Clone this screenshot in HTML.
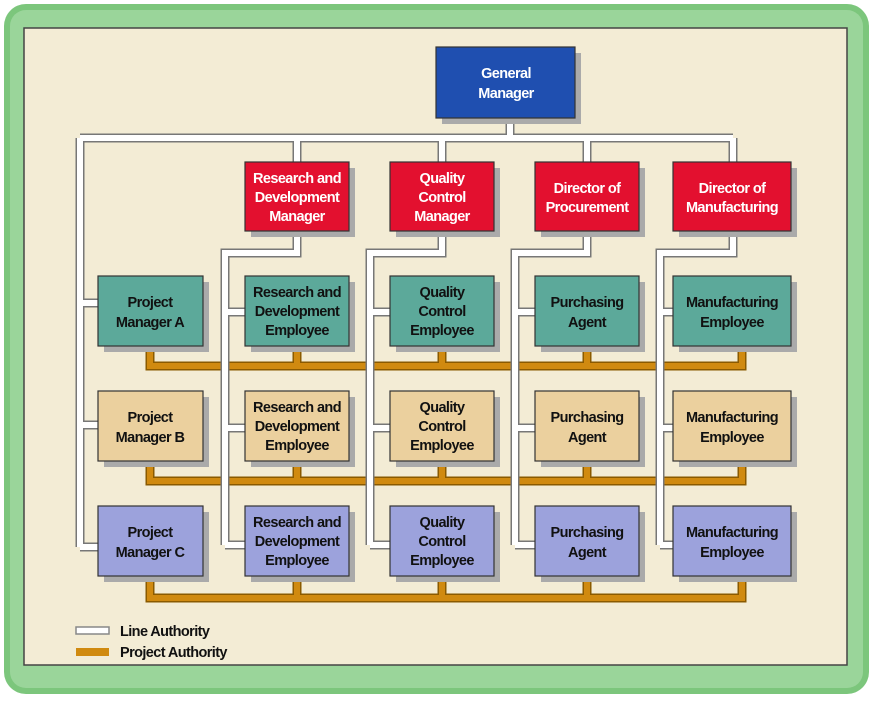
<!DOCTYPE html>
<html><head><meta charset="utf-8"><style>
body{margin:0;background:#fff;width:873px;height:698px;overflow:hidden}
text{font-family:"Liberation Sans",sans-serif;font-weight:bold;font-size:14.5px;letter-spacing:-0.6px;text-anchor:middle}
</style></head><body>
<svg width="873" height="698" viewBox="0 0 873 698">
<rect x="4" y="4" width="865" height="690" rx="22" fill="#7cc67c"/>
<rect x="10" y="10" width="853" height="678" rx="16" fill="#9ad59a"/>
<rect x="24" y="28" width="823" height="637" fill="#f3ecd5" stroke="#444" stroke-width="1.5"/>
<g fill="none" stroke-linejoin="miter">
<g stroke="#8a5a00" stroke-width="9">
<path d="M150 346V366H742V346M297 346V366M442 346V366M587 346V366"/>
<path d="M150 461V481H742V461M297 461V481M442 461V481M587 461V481"/>
<path d="M150 576V598H742V576M297 576V598M442 576V598M587 576V598"/>
</g>
<g stroke="#d08a10" stroke-width="6">
<path d="M150 346V366H742V346M297 346V366M442 346V366M587 346V366"/>
<path d="M150 461V481H742V461M297 461V481M442 461V481M587 461V481"/>
<path d="M150 576V598H742V576M297 576V598M442 576V598M587 576V598"/>
</g>
<g id="la">
<path d="M510 118V138M80 138H733M297 138V162M442 138V162M587 138V162M733 138V162M80 138V547M80 303H98M80 425H98M80 547H98"/>
<path d="M297 231V253H225V545M225 312H245M225 428H245M225 545H245"/>
<path d="M442 231V253H370V545M370 312H390M370 428H390M370 545H390"/>
<path d="M587 231V253H515V545M515 312H535M515 428H535M515 545H535"/>
<path d="M733 231V253H660V545M660 312H673M660 428H673M660 545H673"/>
</g>
</g>
<g fill="none" stroke="#777" stroke-width="9"><use href="#la"/></g>
<g fill="none" stroke="#fff" stroke-width="6"><use href="#la"/></g>
<g stroke="#333" stroke-width="1.2">
<g fill="#aaa" stroke="none">
<rect x="442" y="53" width="139" height="71"/>
<rect x="251" y="168" width="104" height="69"/><rect x="396" y="168" width="104" height="69"/><rect x="541" y="168" width="104" height="69"/><rect x="679" y="168" width="118" height="69"/>
<rect x="104" y="282" width="105" height="70"/><rect x="251" y="282" width="104" height="70"/><rect x="396" y="282" width="104" height="70"/><rect x="541" y="282" width="104" height="70"/><rect x="679" y="282" width="118" height="70"/>
<rect x="104" y="397" width="105" height="70"/><rect x="251" y="397" width="104" height="70"/><rect x="396" y="397" width="104" height="70"/><rect x="541" y="397" width="104" height="70"/><rect x="679" y="397" width="118" height="70"/>
<rect x="104" y="512" width="105" height="70"/><rect x="251" y="512" width="104" height="70"/><rect x="396" y="512" width="104" height="70"/><rect x="541" y="512" width="104" height="70"/><rect x="679" y="512" width="118" height="70"/>
</g>
<rect x="436" y="47" width="139" height="71" fill="#1f4fb0"/>
<g fill="#e3102f"><rect x="245" y="162" width="104" height="69"/><rect x="390" y="162" width="104" height="69"/><rect x="535" y="162" width="104" height="69"/><rect x="673" y="162" width="118" height="69"/></g>
<g fill="#5ca99a"><rect x="98" y="276" width="105" height="70"/><rect x="245" y="276" width="104" height="70"/><rect x="390" y="276" width="104" height="70"/><rect x="535" y="276" width="104" height="70"/><rect x="673" y="276" width="118" height="70"/></g>
<g fill="#ebd09e"><rect x="98" y="391" width="105" height="70"/><rect x="245" y="391" width="104" height="70"/><rect x="390" y="391" width="104" height="70"/><rect x="535" y="391" width="104" height="70"/><rect x="673" y="391" width="118" height="70"/></g>
<g fill="#9ca2dc"><rect x="98" y="506" width="105" height="70"/><rect x="245" y="506" width="104" height="70"/><rect x="390" y="506" width="104" height="70"/><rect x="535" y="506" width="104" height="70"/><rect x="673" y="506" width="118" height="70"/></g>
</g>
<g fill="#fff">
<text x="506" y="78">General</text><text x="506" y="98">Manager</text>
<text x="297" y="183">Research and</text><text x="297" y="202">Development</text><text x="297" y="221">Manager</text>
<text x="442" y="183">Quality</text><text x="442" y="202">Control</text><text x="442" y="221">Manager</text>
<text x="587" y="193">Director of</text><text x="587" y="212">Procurement</text>
<text x="732" y="193">Director of</text><text x="732" y="212">Manufacturing</text>
</g>
<g fill="#111">
<text x="150" y="307">Project</text><text x="150" y="327">Manager A</text>
<text x="150" y="422">Project</text><text x="150" y="442">Manager B</text>
<text x="150" y="537">Project</text><text x="150" y="557">Manager C</text>
<text x="297" y="297">Research and</text><text x="297" y="316">Development</text><text x="297" y="335">Employee</text>
<text x="297" y="412">Research and</text><text x="297" y="431">Development</text><text x="297" y="450">Employee</text>
<text x="297" y="527">Research and</text><text x="297" y="546">Development</text><text x="297" y="565">Employee</text>
<text x="442" y="297">Quality</text><text x="442" y="316">Control</text><text x="442" y="335">Employee</text>
<text x="442" y="412">Quality</text><text x="442" y="431">Control</text><text x="442" y="450">Employee</text>
<text x="442" y="527">Quality</text><text x="442" y="546">Control</text><text x="442" y="565">Employee</text>
<text x="587" y="307">Purchasing</text><text x="587" y="327">Agent</text>
<text x="587" y="422">Purchasing</text><text x="587" y="442">Agent</text>
<text x="587" y="537">Purchasing</text><text x="587" y="557">Agent</text>
<text x="732" y="307">Manufacturing</text><text x="732" y="327">Employee</text>
<text x="732" y="422">Manufacturing</text><text x="732" y="442">Employee</text>
<text x="732" y="537">Manufacturing</text><text x="732" y="557">Employee</text>
</g>
<rect x="76" y="627" width="33" height="7" fill="#fff" stroke="#888" stroke-width="1.5"/>
<rect x="76" y="648" width="33" height="8" fill="#d08a10"/>
<text x="120" y="636" fill="#111" style="text-anchor:start">Line Authority</text>
<text x="120" y="657" fill="#111" style="text-anchor:start">Project Authority</text>
</svg>
</body></html>
